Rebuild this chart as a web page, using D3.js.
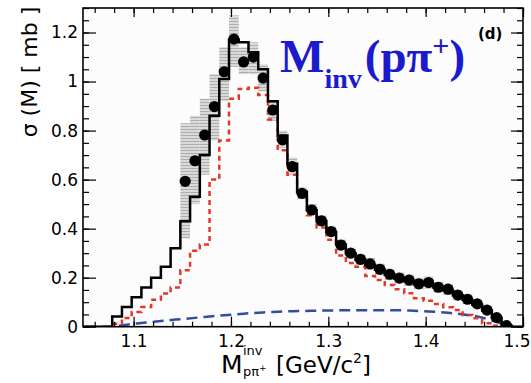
<!DOCTYPE html>
<html>
<head>
<meta charset="utf-8">
<script src="https://cdn.jsdelivr.net/npm/d3@7"></script>
<style>
  html, body { margin: 0; padding: 0; background: #fff; }
  svg { display: block; }
</style>
</head>
<body>
<div id="chart"></div>
<script>
/**************************************************
 * Data
 **************************************************/

// bin centres of the simulated histograms, GeV/c^2 (bin width 0.01)
const massCenters = [
  1.083, 1.093, 1.103, 1.113, 1.123, 1.133, 1.143, 1.153, 1.163, 1.173,
  1.183, 1.193, 1.203, 1.213, 1.223, 1.233, 1.243, 1.253, 1.263, 1.273,
  1.283, 1.293, 1.303, 1.313, 1.323, 1.333, 1.343, 1.353, 1.363, 1.373,
  1.383, 1.393, 1.403, 1.413, 1.423, 1.433, 1.443, 1.453, 1.463, 1.473,
  1.483
];
const binWidth = 0.01;

// black solid: total simulation (mb)
const simTotal = [
  0.042, 0.08, 0.12, 0.16, 0.20, 0.245, 0.32, 0.43, 0.53, 0.70,
  0.86, 1.01, 1.17, 1.16, 1.12, 1.05, 0.92, 0.78, 0.665, 0.55,
  0.475, 0.43, 0.385, 0.335, 0.30, 0.272, 0.252, 0.232, 0.212, 0.196,
  0.186, 0.174, 0.172, 0.16, 0.15, 0.128, 0.11, 0.09, 0.066, 0.036,
  0.005
];

// red dotted component
const simDelta = [
  0.012, 0.035, 0.06, 0.08, 0.11, 0.135, 0.16, 0.23, 0.31, 0.335,
  0.60, 0.76, 0.93, 0.97, 0.975, 0.945, 0.845, 0.72, 0.62, 0.53,
  0.455, 0.405, 0.355, 0.29, 0.26, 0.245, 0.207, 0.19, 0.17, 0.153,
  0.136, 0.116, 0.106, 0.093, 0.079, 0.068, 0.048, 0.034, 0.014, 0.004,
  0
];

// blue dashed component
const simOther = [
  0.003, 0.008, 0.013, 0.017, 0.021, 0.025, 0.029, 0.032, 0.036, 0.04,
  0.044, 0.047, 0.05, 0.053, 0.056, 0.058, 0.06, 0.062, 0.063, 0.064,
  0.065, 0.066, 0.066, 0.067, 0.067, 0.067, 0.067, 0.067, 0.067, 0.067,
  0.066, 0.064, 0.062, 0.06, 0.057, 0.053, 0.048, 0.042, 0.032, 0.02,
  0.005
];

// measured points with systematic band
const dataMass = [
  1.153, 1.163, 1.173, 1.183, 1.193, 1.203, 1.213, 1.223, 1.233, 1.243,
  1.253, 1.263, 1.273, 1.283, 1.293, 1.303, 1.313, 1.323, 1.333, 1.343,
  1.353, 1.363, 1.373, 1.383, 1.393, 1.403, 1.413, 1.423, 1.433, 1.443,
  1.453, 1.463, 1.473, 1.483
];
const dataVals = [
  0.593, 0.677, 0.782, 0.898, 1.04, 1.173, 1.08, 1.10, 1.014, 0.884,
  0.762, 0.653, 0.544, 0.476, 0.432, 0.388, 0.333, 0.30, 0.275, 0.256,
  0.234, 0.214, 0.198, 0.19, 0.175, 0.18, 0.161, 0.153, 0.129, 0.112,
  0.093, 0.068, 0.037, 0.004
];
const sysLow = [
  0.36, 0.50, 0.62, 0.76, 0.92, 1.06, 1.03, 1.03, 0.96, 0.84,
  0.73, 0.62, 0.52, 0.455, 0.41, 0.366, 0.31, 0.278, 0.252, 0.232,
  0.21, 0.19, 0.175, 0.166, 0.152, 0.156, 0.138, 0.13, 0.108, 0.092,
  0.075, 0.052, 0.024, 0
];
const sysHigh = [
  0.83, 0.86, 0.93, 1.03, 1.14, 1.27, 1.14, 1.16, 1.07, 0.92,
  0.80, 0.69, 0.57, 0.50, 0.455, 0.41, 0.356, 0.322, 0.298, 0.28,
  0.258, 0.238, 0.222, 0.214, 0.2, 0.204, 0.184, 0.176, 0.15, 0.132,
  0.111, 0.084, 0.05, 0.012
];

// axis ticks
const yTickVals = [0, 0.2, 0.4, 0.6, 0.8, 1, 1.2];
const yTickLabels = ["0", "0.2", "0.4", "0.6", "0.8", "1", "1.2"];
const xTickVals = [1.1, 1.2, 1.3, 1.4, 1.5];
const xTickLabels = ["1.1", "1.2", "1.3", "1.4", "1.5"];

/**************************************************
 * Rendering
 **************************************************/

const W = 531, H = 383;
const L = 83, R = 523, T = 8, B = 326.7;

const svg = d3.select("#chart").append("svg")
  .attr("width", W)
  .attr("height", H);

const x = d3.scaleLinear().domain([1.048, 1.5]).range([L, R]);
const y = d3.scaleLinear().domain([0, 1.3]).range([B, T]);

// hatched grey fill for the systematic band
const defs = svg.append("defs");
const pat = defs.append("pattern")
  .attr("id", "hatch")
  .attr("patternUnits", "userSpaceOnUse")
  .attr("width", 4)
  .attr("height", 3);
pat.append("rect").attr("width", 4).attr("height", 3).attr("fill", "#dadada");
pat.append("rect").attr("width", 4).attr("height", 1).attr("fill", "#adadad");

defs.append("clipPath").attr("id", "plotclip")
  .append("rect")
  .attr("x", L).attr("y", T).attr("width", R - L).attr("height", B - T);

svg.append("rect")
  .attr("x", L).attr("y", T)
  .attr("width", R - L).attr("height", B - T)
  .attr("fill", "#fcfcfc");

const plot = svg.append("g").attr("clip-path", "url(#plotclip)");

// systematic band
plot.selectAll("rect.sys")
  .data(dataMass)
  .enter()
  .append("rect")
  .attr("class", "sys")
  .attr("x", d => x(d - binWidth / 2))
  .attr("width", d => x(d + binWidth / 2) - x(d - binWidth / 2))
  .attr("y", (d, i) => y(sysHigh[i]))
  .attr("height", (d, i) => y(sysLow[i]) - y(sysHigh[i]))
  .attr("fill", "url(#hatch)");

// step histograms
function stepPoints(vals, withLead) {
  const pts = [];
  if (withLead) pts.push([x.domain()[0], 0]);
  massCenters.forEach((m, i) => pts.push([m - binWidth / 2, vals[i]]));
  const last = massCenters[massCenters.length - 1] + binWidth / 2;
  pts.push([last, 0]);
  pts.push([x.domain()[1], 0]);
  return pts;
}
const stepLine = d3.line()
  .x(d => x(d[0]))
  .y(d => y(d[1]))
  .curve(d3.curveStepAfter);

// blue dashed
const bluePts = [[1.05, 0], [1.078, 0]]
  .concat(massCenters.map((m, i) => [m, simOther[i]]))
  .concat([[1.49, 0]]);
plot.append("path")
  .attr("d", d3.line().x(d => x(d[0])).y(d => y(d[1]))(bluePts))
  .attr("fill", "none")
  .attr("stroke", "#2f4f9e")
  .attr("stroke-width", 2.5)
  .attr("stroke-dasharray", "11,6");

// red dotted
plot.append("path")
  .attr("d", stepLine(stepPoints(simDelta, false).slice(0, -1)))
  .attr("fill", "none")
  .attr("stroke", "#e2382a")
  .attr("stroke-width", 2.5)
  .attr("stroke-dasharray", "5,4");

// black solid
plot.append("path")
  .attr("d", stepLine(stepPoints(simTotal, true)))
  .attr("fill", "none")
  .attr("stroke", "#000")
  .attr("stroke-width", 2.5);

// data points
plot.selectAll("circle.pt")
  .data(dataMass)
  .enter()
  .append("circle")
  .attr("class", "pt")
  .attr("cx", d => x(d))
  .attr("cy", (d, i) => y(dataVals[i]))
  .attr("r", 5.6)
  .attr("fill", "#000");

/**************************************************
 * Axes (ticks inward, mirrored on top/right)
 **************************************************/

const font = "'DejaVu Sans', Arial, sans-serif";

function styleAxis(g) {
  g.select(".domain").remove();
  g.selectAll("line").attr("stroke", "#000").attr("stroke-width", 1.2);
  g.selectAll("text").attr("font-family", font).attr("font-size", 17).attr("fill", "#000");
}

const yMinor = d3.range(0, 1.3001, 0.05);
const xMinor = d3.range(1.06, 1.5001, 0.02);

svg.append("g").attr("transform", `translate(${L},0)`)
  .call(d3.axisLeft(y).tickValues(yMinor).tickSize(-6).tickFormat(""))
  .call(styleAxis);
svg.append("g").attr("transform", `translate(${L},0)`)
  .call(d3.axisLeft(y).tickValues(yTickVals).tickSize(-13).tickPadding(5)
    .tickFormat((d, i) => yTickLabels[i]))
  .call(styleAxis);

svg.append("g").attr("transform", `translate(${R},0)`)
  .call(d3.axisRight(y).tickValues(yMinor).tickSize(-6).tickFormat(""))
  .call(styleAxis);
svg.append("g").attr("transform", `translate(${R},0)`)
  .call(d3.axisRight(y).tickValues(yTickVals).tickSize(-12).tickFormat(""))
  .call(styleAxis);

svg.append("g").attr("transform", `translate(0,${B})`)
  .call(d3.axisBottom(x).tickValues(xMinor).tickSize(-5).tickFormat(""))
  .call(styleAxis);
const xAx = svg.append("g").attr("transform", `translate(0,${B})`)
  .call(d3.axisBottom(x).tickValues(xTickVals).tickSize(-10).tickPadding(8)
    .tickFormat((d, i) => xTickLabels[i]))
  .call(styleAxis);
// last label sits at the window edge: keep it inside
xAx.selectAll(".tick").filter(d => d === 1.5).select("text")
  .attr("text-anchor", "end")
  .attr("x", W - R - 1);

svg.append("g").attr("transform", `translate(0,${T})`)
  .call(d3.axisTop(x).tickValues(xMinor).tickSize(-5).tickFormat(""))
  .call(styleAxis);
svg.append("g").attr("transform", `translate(0,${T})`)
  .call(d3.axisTop(x).tickValues(xTickVals).tickSize(-9).tickFormat(""))
  .call(styleAxis);

// frame
svg.append("rect")
  .attr("x", L).attr("y", T)
  .attr("width", R - L).attr("height", B - T)
  .attr("fill", "none")
  .attr("stroke", "#000")
  .attr("stroke-width", 1.6);

/**************************************************
 * Titles
 **************************************************/

svg.append("text")
  .attr("transform", "translate(37,72) rotate(-90)")
  .attr("text-anchor", "middle")
  .attr("font-family", font)
  .attr("font-size", 22)
  .text("σ (M) [ mb ]");

// x title: M with stacked sup/sub
const xt = svg.append("g").attr("font-family", font).attr("fill", "#000");
xt.append("text").attr("x", 221).attr("y", 373).attr("font-size", 25).text("M");
xt.append("text").attr("x", 243).attr("y", 355).attr("font-size", 13).text("inv");
const sub = xt.append("text").attr("x", 243).attr("y", 376).attr("font-size", 13);
sub.append("tspan").text("pπ");
sub.append("tspan").attr("dy", -5).attr("font-size", 9).text("+");
const unit = xt.append("text").attr("x", 276).attr("y", 373).attr("font-size", 23);
unit.append("tspan").text("[GeV/c");
unit.append("tspan").attr("dy", -10).attr("font-size", 14).text("2");
unit.append("tspan").attr("dy", 10).text("]");

// big blue label
const ttl = svg.append("text")
  .attr("x", 280).attr("y", 72)
  .attr("font-family", "'Liberation Serif', 'Times New Roman', serif")
  .attr("font-weight", "bold")
  .attr("font-size", 47)
  .attr("fill", "#1b1bcc");
ttl.append("tspan").text("M");
ttl.append("tspan").attr("dy", 16).attr("font-size", 28).text("inv");
ttl.append("tspan").attr("dy", -16).attr("dx", 3).text("(pπ");
ttl.append("tspan").attr("dy", -16).attr("font-size", 30).text("+");
ttl.append("tspan").attr("dy", 16).text(")");

svg.append("text")
  .attr("x", 478).attr("y", 39)
  .attr("font-family", font)
  .attr("font-weight", "bold")
  .attr("font-size", 15)
  .text("(d)");
</script>
</body>
</html>
